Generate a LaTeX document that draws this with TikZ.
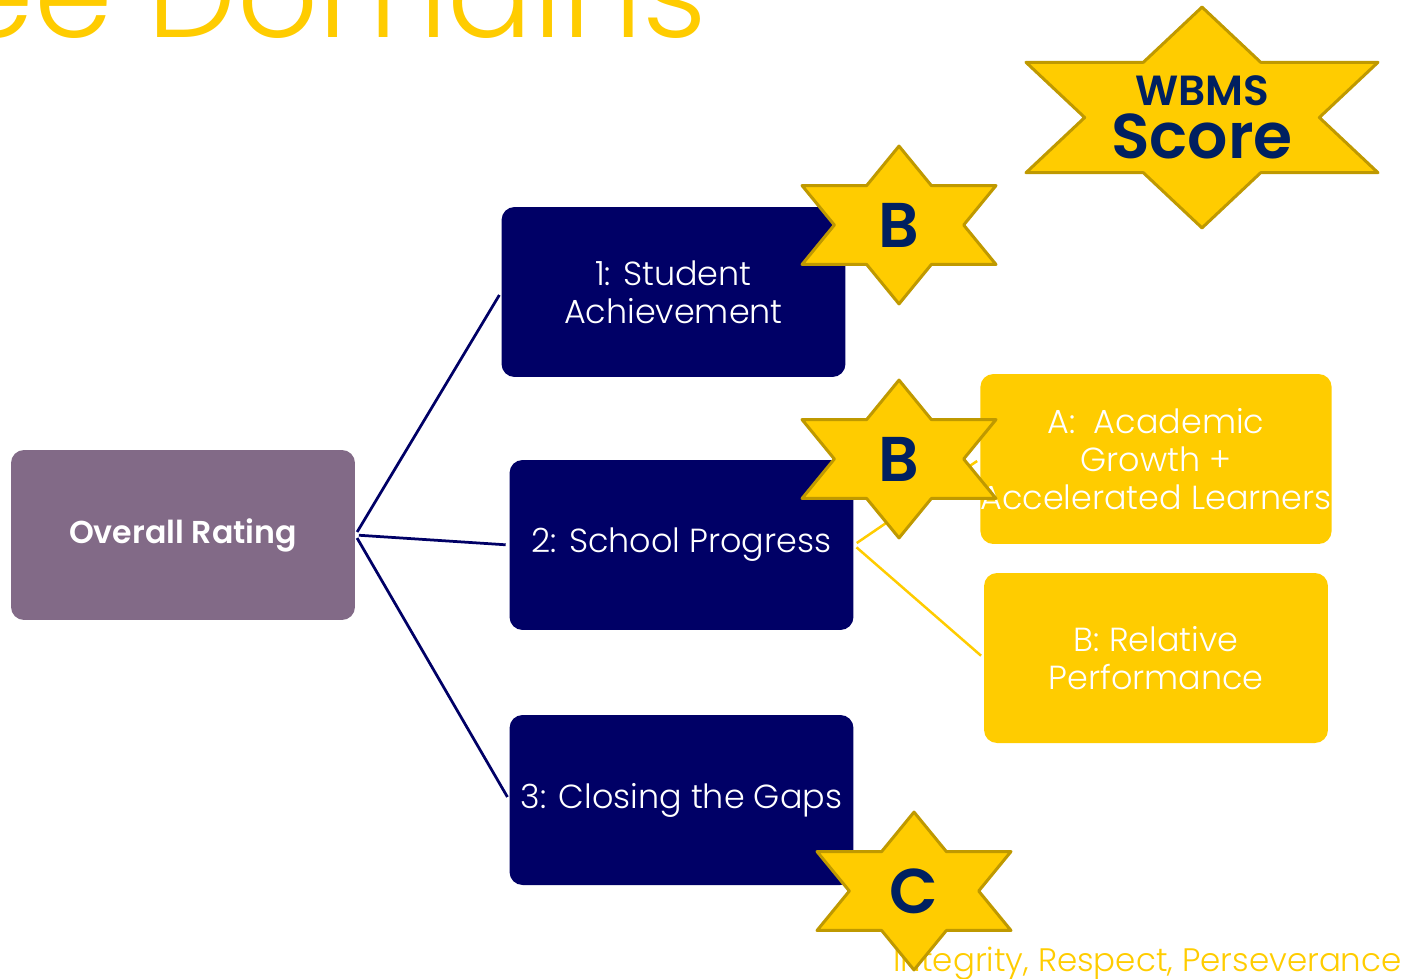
\documentclass[tikz,border=0pt]{standalone}
\usepackage{fontspec}
\setmainfont{Poppins Light}
\newfontfamily\boldfont{Poppins SemiBold}
\usepackage{xcolor}
\definecolor{navy}{HTML}{000066}
\definecolor{mauve}{HTML}{826A87}
\definecolor{gold}{HTML}{FFCC00}
\definecolor{darkgold}{HTML}{BF9900}
\definecolor{inkblue}{HTML}{002060}

% one six pointed badge: name, x, y, half width, half height, text
\newcommand{\badge}[6]{
\begin{scope}[shift={(#2,#3)},x={#4*0.02cm/3},y={-#5*0.01cm}]
\draw[StarEdge] (0,-2) -- (1,-1) -- (3,-1) -- (2,0) -- (3,1) -- (1,1) -- (0,2) -- (-1,1) -- (-3,1) -- (-2,0) -- (-3,-1) -- (-1,-1) -- cycle;
\end{scope}
\node[StarText] (#1) at (#2,#3) {#6};
}

\begin{document}
\begin{tikzpicture}
[x=0.02cm,y=-0.02cm,
NavyNode/.style={rectangle,fill=navy,rounded corners=0.26cm,minimum width=6.88cm,minimum height=3.4cm,inner sep=0pt,align=center,text=white,font=\fontsize{19}{21.8}\selectfont},
GoldNode/.style={NavyNode,fill=gold},
RatingNode/.style={NavyNode,fill=mauve,font=\boldfont\fontsize{18}{21.8}\selectfont},
StarEdge/.style={draw=darkgold,fill=gold,line width=0.06cm,line join=round},
StarText/.style={inner sep=0pt,align=center,text=inkblue,font=\boldfont\fontsize{36}{30}\selectfont},
NavyLine/.style={draw=navy,line width=0.055cm,shorten <=2pt,shorten >=2pt},
GoldLine/.style={draw=gold,line width=0.05cm,shorten <=2pt,shorten >=2pt},
Tag/.style={inner sep=0pt,text=gold}]

\clip (0,0) rectangle (1412,978);
\useasboundingbox (0,0) rectangle (1412,978);

% title
\node[Tag,anchor=base east,font=\fontsize{72}{80}\selectfont] (title) at (707,37) {Three Domains};

% footer
\node[Tag,anchor=base east,font=\fontsize{18.5}{22}\selectfont] (footer) at (1402,971) {Integrity, Respect, Perseverance};

% boxes
\node[RatingNode] (rating) at (183,535) {Overall Rating};
\node[NavyNode] (n1) at (673.5,292) {1: Student\\Achievement};
\node[NavyNode] (n2) at (681.5,545) {2: School Progress};
\node[NavyNode] (n3) at (681.5,800) {3: Closing the Gaps};
\node[GoldNode] (a) at (1156,459) {A:\ \ Academic\\Growth +\\Accelerated Learners};
\node[GoldNode] (b) at (1156,658) {B: Relative\\Performance};

% connectors
\draw[NavyLine] (rating.east) -- (n1.west);
\draw[NavyLine] (rating.east) -- (n2.west);
\draw[NavyLine] (rating.east) -- (n3.west);
\draw[GoldLine] (n2.east) -- (a.west);
\draw[GoldLine] (n2.east) -- (b.west);

% badges
\badge{s1}{899}{225}{97}{79}{B}
\badge{s2}{899}{459}{97}{79}{B}
\badge{s3}{914}{891}{97}{79}{C}
\badge{s4}{1202}{117.5}{176}{110.5}{\fontsize{24}{29.5}\selectfont WBMS\\Score}

\end{tikzpicture}
\end{document}
